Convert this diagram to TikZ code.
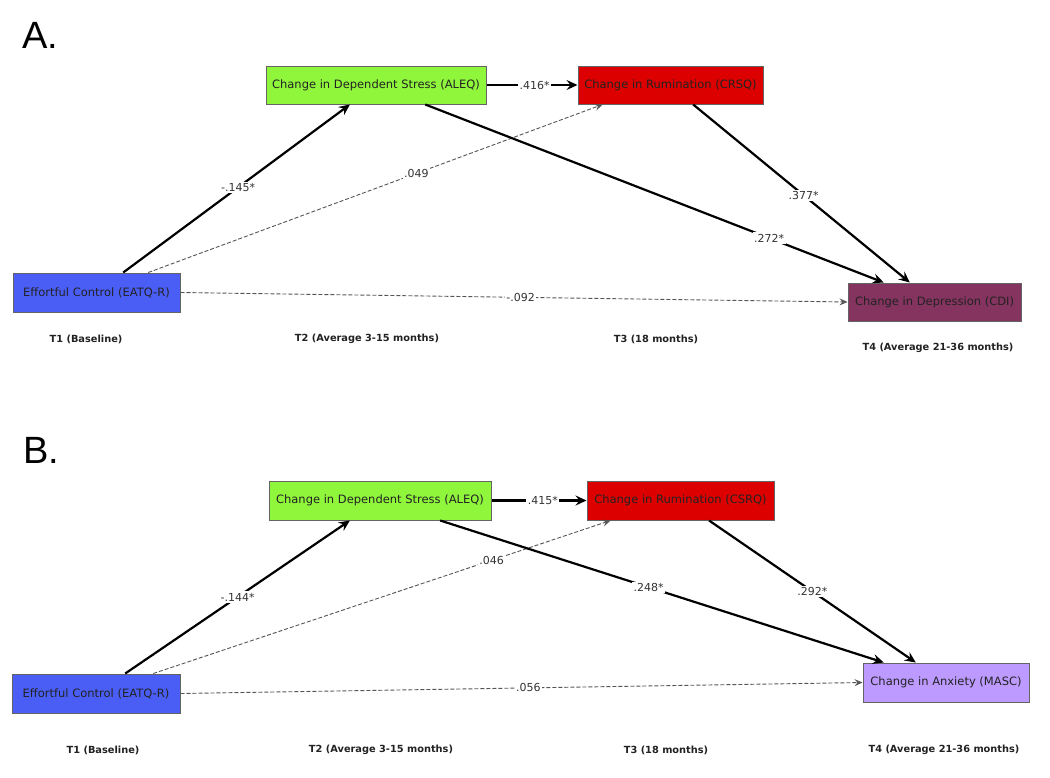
\documentclass[tikz,border=0pt]{standalone}
\usepackage{fontspec}
\setmainfont{DejaVu Sans}
\newfontfamily\panelfont{Liberation Sans}
\usetikzlibrary{arrows.meta,calc}
\definecolor{cgreen}{RGB}{144,246,60}
\definecolor{cred}{RGB}{221,0,0}
\definecolor{cblue}{RGB}{74,94,246}
\definecolor{cplum}{RGB}{133,52,96}
\definecolor{clav}{RGB}{188,154,255}
\definecolor{cborder}{RGB}{100,100,100}
\definecolor{ctext}{RGB}{34,34,34}
\definecolor{clbl}{RGB}{51,51,51}
\definecolor{cdash}{RGB}{85,85,85}
\tikzset{
  boxnode/.style={draw=cborder, line width=1pt, inner sep=0pt, text=ctext,
    font=\fontsize{11.5}{13}\selectfont, align=center},
  solidarr/.style={line width=2.2pt, -{Stealth[length=11pt,width=10pt,inset=4pt]}},
  dasharr/.style={line width=0.9pt, draw=cdash, dash pattern=on 4pt off 2pt,
    -{Stealth[length=8pt,width=7pt,inset=3pt]}},
  lbl/.style={fill=white, inner sep=1.5pt, text=clbl, font=\fontsize{11}{12}\selectfont},
  timelbl/.style={font=\bfseries\fontsize{9.8}{11}\selectfont, text=ctext},
  panellbl/.style={font=\panelfont\fontsize{38}{40}\selectfont, anchor=base west, inner sep=0pt}
}
\begin{document}
\begin{tikzpicture}[x=1pt,y=-1pt]
\useasboundingbox (0,0) rectangle (1050,777);
\fill[white] (0,0) rectangle (1050,777);

% ---------------- Panel A ----------------
\node[panellbl] (labA) at (22,48) {A.};
\node[boxnode, fill=cgreen, minimum width=220pt, minimum height=38pt] (greenA) at (376,85) {Change in Dependent Stress (ALEQ)};
\node[boxnode, fill=cred, minimum width=185pt, minimum height=38pt] (redA) at (670.5,85) {Change in Rumination (CRSQ)};
\node[boxnode, fill=cblue, minimum width=167pt, minimum height=39pt] (blueA) at (96.5,292.5) {Effortful Control (EATQ-R)};
\node[boxnode, fill=cplum, minimum width=173pt, minimum height=38pt] (purpleA) at (934.5,302) {Change in Depression (CDI)};

\node[timelbl] (t1A) at (86,339) {T1 (Baseline)};
\node[timelbl] (t2A) at (367,339) {T2 (Average 3-15 months)};
\node[timelbl] (t3A) at (656,339) {T3 (18 months)};
\node[timelbl] (t4A) at (938,348) {T4 (Average 21-36 months)};

\draw[dasharr] (blueA.east) -- node[lbl,pos=0.51] {-.092} (purpleA.west);
\draw[dasharr] ($(blueA.north west)!0.808!(blueA.north east)$) -- node[lbl,pos=0.59] {.049} ($(redA.south west)!0.135!(redA.south east)$);
\draw[solidarr] ($(blueA.north west)!0.659!(blueA.north east)$) -- node[lbl,pos=0.507] {-.145*} ($(greenA.south west)!0.382!(greenA.south east)$);
\draw[solidarr] (greenA.east) -- node[lbl,pos=0.53] {.416*} (redA.west);
\draw[solidarr] ($(greenA.south west)!0.723!(greenA.south east)$) -- node[lbl,pos=0.75] {.272*} ($(purpleA.north west)!0.208!(purpleA.north east)$);
\draw[solidarr] ($(redA.south west)!0.622!(redA.south east)$) -- node[lbl,pos=0.51] {.377*} ($(purpleA.north west)!0.358!(purpleA.north east)$);

% ---------------- Panel B ----------------
\node[panellbl] (labB) at (23,463) {B.};
\node[boxnode, fill=cgreen, minimum width=222pt, minimum height=39pt] (greenB) at (380,500.5) {Change in Dependent Stress (ALEQ)};
\node[boxnode, fill=cred, minimum width=187pt, minimum height=39pt] (redB) at (680.5,500.5) {Change in Rumination (CSRQ)};
\node[boxnode, fill=cblue, minimum width=168pt, minimum height=39pt] (blueB) at (96,693.5) {Effortful Control (EATQ-R)};
\node[boxnode, fill=clav, minimum width=166pt, minimum height=39pt] (purpleB) at (946,682.5) {Change in Anxiety (MASC)};

\node[timelbl] (t1B) at (103,750) {T1 (Baseline)};
\node[timelbl] (t2B) at (381,750) {T2 (Average 3-15 months)};
\node[timelbl] (t3B) at (666,750) {T3 (18 months)};
\node[timelbl] (t4B) at (944,750) {T4 (Average 21-36 months)};

\draw[dasharr] (blueB.east) -- node[lbl,pos=0.51] {.056} (purpleB.west);
\draw[dasharr] ($(blueB.north west)!0.839!(blueB.north east)$) -- node[lbl,pos=0.74] {.046} ($(redB.south west)!0.128!(redB.south east)$);
\draw[solidarr] ($(blueB.north west)!0.673!(blueB.north east)$) -- node[lbl,pos=0.5] {-.144*} ($(greenB.south west)!0.365!(greenB.south east)$);
\draw[solidarr] (greenB.east) -- node[lbl,pos=0.54] {.415*} (redB.west);
\draw[solidarr] ($(greenB.south west)!0.770!(greenB.south east)$) -- node[lbl,pos=0.47] {.248*} ($(purpleB.north west)!0.127!(purpleB.north east)$);
\draw[solidarr] ($(redB.south west)!0.652!(redB.south east)$) -- node[lbl,pos=0.5] {.292*} ($(purpleB.north west)!0.319!(purpleB.north east)$);
\end{tikzpicture}
\end{document}
